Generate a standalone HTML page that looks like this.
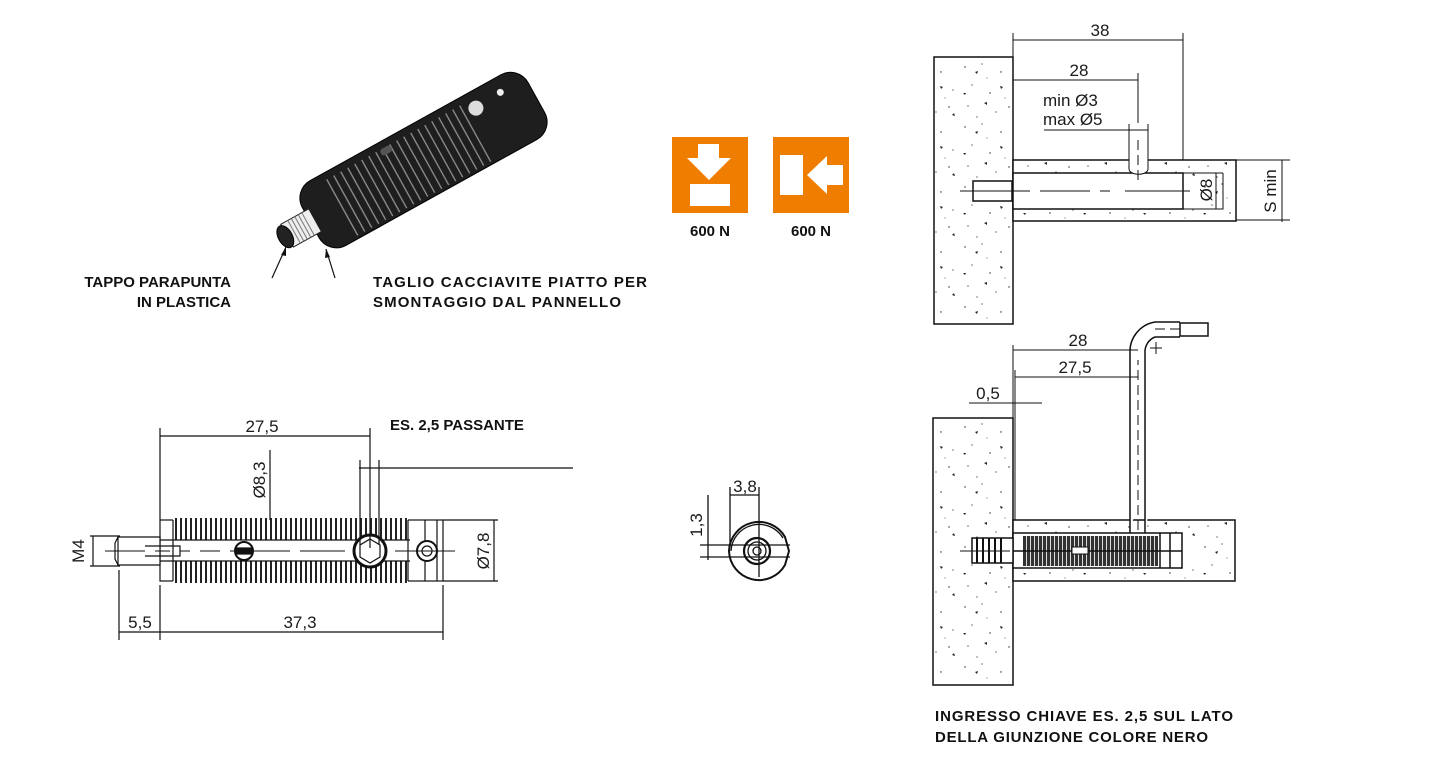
<!DOCTYPE html>
<html><head><meta charset="utf-8"><style>
html,body{margin:0;padding:0;background:#fff;width:1440px;height:774px;overflow:hidden}
svg{display:block}
.t{font-family:"Liberation Sans",sans-serif;font-size:17px;fill:#1a1a1a}
.b{font-family:"Liberation Sans",sans-serif;font-size:15px;font-weight:bold;fill:#111}
</style></head><body>
<svg width="1440" height="774" viewBox="0 0 1440 774" xmlns="http://www.w3.org/2000/svg">
<defs>
<pattern id="sp" width="60" height="60" patternUnits="userSpaceOnUse">
<rect width="60" height="60" fill="#fff"/>
<g fill="#222">
<circle cx="5" cy="7" r="0.7"/><circle cx="22" cy="4" r="0.6"/><circle cx="41" cy="12" r="0.7"/><circle cx="53" cy="30" r="0.6"/>
<circle cx="12" cy="25" r="0.6"/><circle cx="30" cy="33" r="0.7"/><circle cx="8" cy="46" r="0.6"/><circle cx="36" cy="52" r="0.6"/>
<circle cx="49" cy="47" r="0.7"/><circle cx="17" cy="57" r="0.6"/><circle cx="27" cy="18" r="0.5"/><circle cx="45" cy="38" r="0.5"/>
<path d="M15 12l3 -1 -1 3z"/><path d="M40 26l3 1 -2 2z"/><path d="M24 43l3 -1 0 3z"/><path d="M52 55l2 -2 1 3z"/><path d="M3 33l3 0 -1 2z"/>
</g></pattern>
<pattern id="th" width="5" height="10" patternUnits="userSpaceOnUse">
<rect width="5" height="10" fill="#fff"/><rect x="0" width="2" height="10" fill="#222"/>
</pattern>
<pattern id="thd" width="4" height="10" patternUnits="userSpaceOnUse">
<rect width="4" height="10" fill="#333"/><rect x="2" width="1" height="10" fill="#ddd"/>
</pattern>
</defs>

<!-- 3D view -->
<g transform="translate(420,162) rotate(-29)">
<rect x="-125" y="-37" width="258" height="74" rx="20" fill="#1e1e1e" stroke="#000"/>
<g stroke="#888" stroke-width="1.4">
<path d="M-90 -30v64M-82 -30v64M-74 -30v64M-66 -30v64M-58 -30v64M-50 -30v64M-42 -30v64M-34 -30v64M-26 -30v64M-18 -30v64M-10 -30v64M-2 -30v64M6 -30v64M14 -30v64M22 -30v64M30 -30v64M38 -30v64M46 -30v64M54 -30v64M62 -30v64"/>
</g>
<rect x="-152" y="-13" width="32" height="26" fill="#eee" stroke="#222"/>
<path d="M-144 -13v26M-140 -13v26M-136 -13v26M-132 -13v26M-128 -13v26" stroke="#777"/>
<ellipse cx="-154" cy="0" rx="7" ry="12" fill="#222" stroke="#000"/>
<circle cx="75" cy="-20" r="8" fill="#ddd" stroke="#222"/>
<circle cx="104" cy="-22" r="4" fill="#eee" stroke="#222"/>
<rect x="-30" y="-30" width="12" height="7" rx="3" fill="#555"/>
</g>
<path d="M272 278L286 247M335 278L326 249" stroke="#111" stroke-width="1.2"/>
<path d="M286 247l-5 8 5 1zM326 249l-1 9 5 -1z" fill="#111"/>
<text class="b" x="231" y="287" text-anchor="end">TAPPO PARAPUNTA</text>
<text class="b" x="231" y="307" text-anchor="end">IN PLASTICA</text>
<text class="b" x="373" y="287" textLength="274">TAGLIO CACCIAVITE PIATTO PER</text>
<text class="b" x="373" y="307" textLength="248">SMONTAGGIO DAL PANNELLO</text>

<!-- orange icons -->
<rect x="672" y="137" width="76" height="76" fill="#ef7d00"/>
<path d="M698 144h21v14h12l-22 22-22 -22h11z" fill="#fff"/>
<rect x="690" y="184" width="40" height="22" fill="#fff"/>
<rect x="773" y="137" width="76" height="76" fill="#ef7d00"/>
<rect x="780" y="155" width="23" height="40" fill="#fff"/>
<path d="M807 175l20 -19v9h16v20h-16v9z" fill="#fff"/>
<text class="b" x="710" y="236" text-anchor="middle">600 N</text>
<text class="b" x="811" y="236" text-anchor="middle">600 N</text>

<!-- left dimensioned drawing -->
<g stroke="#111" fill="none" stroke-width="1.2">
<rect x="160" y="520" width="283" height="61" fill="#fff"/>
<rect x="173" y="518" width="235" height="22" fill="url(#th)" stroke="none"/>
<rect x="173" y="561" width="235" height="22" fill="url(#th)" stroke="none"/>
<path d="M173 520v61M408 520v61M425 520v61M437 520v61M160 540h250M160 561h250"/>
<path d="M118 537h42v28h-42z M118 537l-3 6v16l3 6" fill="#fff"/>
<path d="M145 546h35v10h-35"/>
<circle cx="244" cy="551" r="9" fill="#fff" stroke-width="2"/><rect x="236" y="548" width="16" height="6" fill="#111"/>
<circle cx="370" cy="551" r="16" fill="#fff" stroke-width="3"/><path d="M370 539l10 6v12l-10 6-10-6v-12z"/>
<circle cx="427" cy="551" r="10" fill="#fff" stroke-width="2"/><circle cx="427" cy="551" r="5"/>
<path d="M105 551h40M155 551h15M180 551h10M200 551h20M230 551h60M300 551h45M395 551h60" stroke-width="1"/>
<path d="M160 428v92M370 428v120M160 436h210M270 450v70M360 460v85M379 460v85M359 468h214"/>
<path d="M443 520h55M443 581h55M494 520v61M90 536h30M90 566h30M93 536v30"/>
<path d="M119 570v70M160 585v55M443 585v55M119 632h324"/>
</g>
<text class="b" x="390" y="430">ES. 2,5 PASSANTE</text>
<text class="t" x="262" y="432" text-anchor="middle">27,5</text>
<text class="t" x="140" y="628" text-anchor="middle">5,5</text>
<text class="t" x="300" y="628" text-anchor="middle">37,3</text>
<text class="t" transform="translate(265,480) rotate(-90)" text-anchor="middle">Ø8,3</text>
<text class="t" transform="translate(489,551) rotate(-90)" text-anchor="middle">Ø7,8</text>
<text class="t" transform="translate(84,551) rotate(-90)" text-anchor="middle">M4</text>

<!-- end view -->
<g stroke="#111" fill="none" stroke-width="1.3">
<path d="M729 551a30 30 0 0 1 56 -14l4 14-4 14a30 30 0 0 1 -56 -14z" stroke-width="2"/>
<path d="M731 551a28 28 0 0 1 52 -13"/>
<circle cx="757" cy="551" r="13" stroke-width="2.2"/><circle cx="757" cy="551" r="9"/><circle cx="757" cy="551" r="4"/>
<path d="M730 487v60M759 487v90M730 495h29M708 495v65M700 545h90M700 557h90"/>
</g>
<text class="t" x="745" y="492" text-anchor="middle">3,8</text>
<text class="t" transform="translate(702,525) rotate(-90)" text-anchor="middle">1,3</text>

<!-- top right -->
<g stroke="#111" fill="none" stroke-width="1.5">
<rect x="934" y="57" width="79" height="267" fill="url(#sp)"/>
<rect x="1013" y="160" width="223" height="61" fill="url(#sp)"/>
<rect x="1013" y="173" width="170" height="36" fill="#fff"/>
<rect x="973" y="181" width="39" height="20" fill="#fff"/>
<path d="M1183 209h40v-36" stroke-width="1"/>
<path d="M1129 124v45a9 5 0 0 0 19 0v-45" stroke-width="1" fill="#fff"/>
<g stroke-width="1">
<path d="M960 191h70M1040 191h50M1100 191h10M1125 191h65M1138 73v50M1138 140v10M1138 155v10M1138 170v10"/>
<path d="M1013 33v127M1183 33v127M1013 40h170M1013 80h125M1044 130h104"/>
<path d="M1236 160h54M1236 220h54M1282 160v62M1183 173h40M1216 173v36"/>
</g>
</g>
<text class="t" x="1100" y="36" text-anchor="middle">38</text>
<text class="t" x="1079" y="76" text-anchor="middle">28</text>
<text class="t" x="1043" y="106">min Ø3</text>
<text class="t" x="1043" y="125">max Ø5</text>
<text class="t" transform="translate(1212,190) rotate(-90)" text-anchor="middle">Ø8</text>
<text class="t" transform="translate(1276,191) rotate(-90)" text-anchor="middle">S min</text>

<!-- bottom right -->
<g stroke="#111" fill="none" stroke-width="1.5">
<rect x="933" y="418" width="80" height="267" fill="url(#sp)"/>
<rect x="1013" y="520" width="222" height="61" fill="url(#sp)"/>
<rect x="1013" y="533" width="169" height="35" fill="#fff"/>
<rect x="1023" y="536" width="135" height="30" fill="url(#thd)" stroke="none"/>
<path d="M1013 551h169M1160 533v35M1170 533v35"/>
<rect x="972" y="538" width="41" height="25" fill="#fff"/>
<path d="M977 538v25M983 538v25M989 538v25M995 538v25M1001 538v25" stroke-width="2"/>
<rect x="1072" y="547" width="16" height="7" fill="#fff" stroke-width="1"/>
<path d="M1130 533v-180a30 30 0 0 1 25 -31h25M1145 533v-180a16 16 0 0 1 10 -16h25" fill="#fff"/>
<rect x="1180" y="323" width="28" height="13" fill="#fff"/>
<path d="M1138 530v-170M1155 329h30" stroke-width="1" stroke-dasharray="10 5"/>
<path d="M1150 348h12M1156 342v12" stroke-width="1"/>
<g stroke-width="1">
<path d="M1013 345v175M1015 370v150M1013 350h125M1015 377h123M969 403h73M960 551h50"/>
</g>
</g>
<text class="t" x="1078" y="346" text-anchor="middle">28</text>
<text class="t" x="1075" y="373" text-anchor="middle">27,5</text>
<text class="t" x="988" y="399" text-anchor="middle">0,5</text>
<text class="b" x="935" y="721" textLength="298">INGRESSO CHIAVE ES. 2,5 SUL LATO</text>
<text class="b" x="935" y="742" textLength="273">DELLA GIUNZIONE COLORE NERO</text>
</svg>
</body></html>
